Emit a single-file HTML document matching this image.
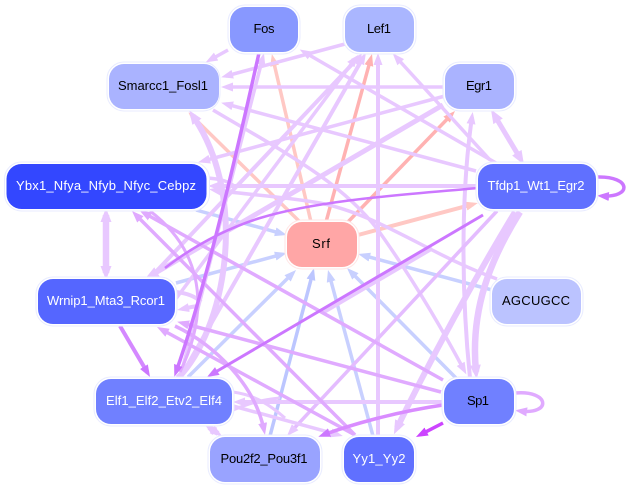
<!DOCTYPE html>
<html>
<head>
<meta charset="utf-8">
<style>
html,body{margin:0;padding:0;background:#fff;width:626px;height:489px;overflow:hidden}
svg{display:block}
text{font-family:"Liberation Sans",sans-serif;font-size:13px;text-anchor:middle;dominant-baseline:central}
.L,.M,.D,.V,.P,.S,.B,.C{fill:none}
.L{stroke:#e8c8ff}.M{stroke:#e0aaff}.D{stroke:#cc77ff}.V{stroke:#cc44ff}
.P{stroke:#ffc8c4}.S{stroke:#ffb2b2}.B{stroke:#c8d0ff}.C{stroke:#bcc6ff}
</style>
</head>
<body>
<svg width="626" height="489" viewBox="0 0 626 489" xmlns="http://www.w3.org/2000/svg">
<defs>
<marker id="aL" markerUnits="userSpaceOnUse" markerWidth="13" markerHeight="10" refX="7" refY="5" orient="auto-start-reverse"><path d="M0,.5L12,5L0,9.5z" fill="#e8c8ff"/></marker>
<marker id="bL" markerUnits="userSpaceOnUse" markerWidth="15" markerHeight="12" refX="7" refY="6" orient="auto-start-reverse"><path d="M0,.5L14,6L0,11.5z" fill="#e8c8ff"/></marker>
<marker id="aM" markerUnits="userSpaceOnUse" markerWidth="13" markerHeight="10" refX="7" refY="5" orient="auto-start-reverse"><path d="M0,.5L12,5L0,9.500z" fill="#e0aaff"/></marker>
<marker id="aD" markerUnits="userSpaceOnUse" markerWidth="13" markerHeight="10" refX="7" refY="5" orient="auto-start-reverse"><path d="M0,.5L12,5L0,9.5z" fill="#cc77ff"/></marker>
<marker id="aV" markerUnits="userSpaceOnUse" markerWidth="13" markerHeight="10" refX="7" refY="5" orient="auto-start-reverse"><path d="M0,.5L12,5L0,9.5z" fill="#cc44ff"/></marker>
<marker id="aP" markerUnits="userSpaceOnUse" markerWidth="13" markerHeight="10" refX="7" refY="5" orient="auto-start-reverse"><path d="M0,.5L12,5L0,9.5z" fill="#ffc8c4"/></marker>
<marker id="aS" markerUnits="userSpaceOnUse" markerWidth="13" markerHeight="10" refX="7" refY="5" orient="auto-start-reverse"><path d="M0,.5L12,5L0,9.5z" fill="#ffb2b2"/></marker>
<marker id="aB" markerUnits="userSpaceOnUse" markerWidth="13" markerHeight="10" refX="7" refY="5" orient="auto-start-reverse"><path d="M0,.5L12,5L0,9.5z" fill="#c8d0ff"/></marker>
<marker id="aC" markerUnits="userSpaceOnUse" markerWidth="13" markerHeight="10" refX="7" refY="5" orient="auto-start-reverse"><path d="M0,.5L12,5L0,9.5z" fill="#bcc6ff"/></marker>
</defs>

<!-- pink / salmon -->
<path class="P" stroke-width="3.5" d="M300,222L192,116" marker-end="url(#aP)"/>
<path class="P" stroke-width="3.5" d="M311,222L273,59" marker-end="url(#aP)"/>
<path class="S" stroke-width="3.5" d="M326,222L370.7,58.8" marker-end="url(#aS)"/>
<path class="S" stroke-width="3.5" d="M346,224L451.5,114.6" marker-end="url(#aS)"/>
<path class="P" stroke-width="4" d="M358,235L473,204.3" marker-end="url(#aP)"/>

<!-- blue -->
<path class="B" stroke-width="3.5" d="M176,283L282,254.3" marker-end="url(#aB)"/>
<path class="B" stroke-width="3.5" d="M196,210L282,233.7" marker-end="url(#aB)"/>
<path class="B" stroke-width="3.5" d="M188,377L292.5,273.5" marker-end="url(#aB)"/>
<path class="C" stroke-width="3.5" d="M270,436L312.7,273" marker-end="url(#aC)"/>
<path class="B" stroke-width="3.5" d="M373,436L329.3,274.8" marker-end="url(#aB)"/>
<path class="B" stroke-width="3.5" d="M456,378L350.5,271.5" marker-end="url(#aB)"/>
<path class="B" stroke-width="3.5" d="M492,290L363,255.3" marker-end="url(#aB)"/>

<!-- light purple -->
<path class="L" stroke-width="3.5" d="M228,50L210,60" marker-end="url(#aL)"/>
<path class="L" stroke-width="3.5" d="M345,44L226,76" marker-end="url(#aL)"/>
<path class="L" stroke-width="3.5" d="M445,87L226,87" marker-end="url(#aL)"/>
<path class="L" stroke-width="3.5" d="M476,171L226,104" marker-end="url(#aL)"/>
<path class="L" stroke-width="6" d="M178,378C225,330 250,200 193,116" marker-end="url(#bL)"/>
<path class="L" stroke-width="3.5" d="M445,96L203,161" marker-end="url(#aL)"/>
<path class="L" stroke-width="4" d="M478,186L213,186" marker-end="url(#aL)"/>
<path class="L" stroke-width="3.5" d="M208,178C220,179 228,181 234,186"/>
<path class="L" stroke-width="3.5" d="M497,279C430,255 380,215 320,203C280,196 240,194 214,190" marker-end="url(#aL)"/>
<path class="L" stroke-width="3.5" d="M213,110C280,150 340,180 378,230C410,275 440,325 464,370" marker-end="url(#aL)"/>
<path class="L" stroke-width="3.5" d="M496,163L304,52" marker-end="url(#aL)"/>
<path class="L" stroke-width="3.5" d="M490,160L396,57" marker-end="url(#aL)"/>
<path class="L" stroke-width="4" d="M378,437L378,58" marker-end="url(#aL)"/>
<path class="L" stroke-width="4" d="M150,278L359,57" marker-end="url(#aL)"/>
<path class="L" stroke-width="4" d="M180,378L363.5,57" marker-end="url(#aL)"/>
<path class="L" stroke-width="3.500" d="M175,300L355,59" marker-end="url(#aL)"/>
<path class="L" stroke-width="5" d="M443,105L151,275.5" marker-end="url(#bL)"/>
<path class="L" stroke-width="6.500" d="M106,215L106,273" marker-start="url(#bL)" marker-end="url(#bL)"/>
<path class="L" stroke-width="5" d="M494.5,115.3L520.4,158.7" marker-start="url(#bL)" marker-end="url(#bL)"/>
<path class="L" stroke-width="4" d="M470,378C462,300 460,200 472,117" marker-end="url(#aL)"/>
<path class="L" stroke-width="6.500" d="M520,212C490,260 470,310 476,372" marker-end="url(#bL)"/>
<path class="L" stroke-width="6" d="M515,212C480,270 440,340 397,428" marker-end="url(#bL)"/>
<path d="M497,211L290.4,432.3" fill="none" stroke="#e4bcff" stroke-width="3.500" marker-end="url(#aL)"/>
<path class="L" stroke-width="3.500" d="M180,378L262.7,58" marker-end="url(#aL)"/>
<path class="L" stroke-width="4" d="M444,402L238,402" marker-end="url(#aL)"/>
<path class="L" stroke-width="3" d="M233,392C255,395 270,405 285,418"/>
<path class="L" stroke-width="3.500" d="M233,406L338,434.7" marker-end="url(#aL)"/>
<path class="L" stroke-width="3" d="M233,410C245,405 258,400 280,398"/>
<path class="L" stroke-width="5" d="M209,427.5L218,433.5" marker-start="url(#aL)" marker-end="url(#aL)"/>
<path class="L" stroke-width="4" d="M176,292C185,293 195,296 201,302"/>
<path class="L" stroke-width="4" d="M198,306C190,307 187,308 182,309" marker-end="url(#aL)"/>
<path class="L" stroke-width="5" d="M323,312L432,248"/>

<!-- medium purple -->
<path class="M" stroke-width="3.500" d="M441,392L182,323" marker-end="url(#aM)"/>
<path class="M" stroke-width="3.500" d="M443,380L144,213" marker-end="url(#aM)"/>
<path class="M" stroke-width="3.500" d="M355,435L135.5,214.5" marker-end="url(#aM)"/>
<path class="M" stroke-width="3.500" d="M355,435L161.4,329.4" marker-end="url(#aM)"/>
<path class="M" stroke-width="3.500" d="M175,326C215,345 255,385 264,430" marker-end="url(#aM)"/>
<path d="M443,405C395,412 350,425 323,435" fill="none" stroke="#d98cff" stroke-width="3.500" marker-end="url(#aD)"/>
<path class="M" stroke-width="3.500" d="M515,393C550,390 552,415 520,411" marker-end="url(#aM)"/>
<path class="M" stroke-width="3" d="M150,211C195,245 215,300 180,372"/>

<!-- dark purple -->
<path class="D" stroke-width="2.500" d="M478,188C400,195 320,200 260,218C225,229 195,245 165,268"/>
<path class="D" stroke-width="3.500" d="M259,53C235,160 205,290 176,372" marker-end="url(#aD)"/>
<path class="D" stroke-width="3" d="M483,215L211.3,374.5" marker-end="url(#aD)"/>
<path d="M120,326L147.5,372.7" fill="none" stroke="#d488ff" stroke-width="4" marker-end="url(#aD)"/>
<path class="D" stroke-width="3.500" d="M597,177C632,176 632,198 602,196" marker-end="url(#aD)"/>
<path class="V" stroke-width="3.500" d="M443,423L420.4,434.7" marker-end="url(#aV)"/>

<!-- nodes -->
<g stroke="#e8ebff" fill="#fff" stroke-width="1">
<rect x="228" y="5" width="72" height="49" rx="17"/>
<rect x="343" y="5" width="73" height="49" rx="17"/>
<rect x="107" y="62" width="113" height="49" rx="17"/>
<rect x="443" y="62" width="73" height="49" rx="17"/>
<rect x="4.500" y="162" width="205" height="49" rx="17"/>
<rect x="476" y="162" width="122" height="49" rx="17"/>
<rect x="285" y="220" width="74" height="49" rx="17" stroke="#ffe6e6"/>
<rect x="36" y="277" width="141" height="49" rx="17"/>
<rect x="490" y="277" width="93" height="49" rx="17"/>
<rect x="94" y="377" width="140" height="49" rx="17"/>
<rect x="442" y="377" width="74" height="49" rx="17"/>
<rect x="208" y="435" width="114" height="49" rx="17"/>
<rect x="342" y="435" width="74" height="49" rx="17"/>
</g>
<rect x="230" y="7" width="68" height="45" rx="15" fill="#8898ff"/>
<rect x="345" y="7" width="69" height="45" rx="15" fill="#aab6ff"/>
<rect x="109" y="64" width="110" height="45" rx="15" fill="#aab3ff"/>
<rect x="445" y="64" width="69" height="45" rx="15" fill="#aab3ff"/>
<rect x="6.500" y="164" width="200" height="45" rx="15" fill="#3347ff"/>
<rect x="478" y="164" width="118" height="45" rx="15" fill="#6070ff"/>
<rect x="287" y="222" width="70" height="45" rx="15" fill="#ffa6a6"/>
<rect x="38" y="279" width="137" height="45" rx="15" fill="#5566ff"/>
<rect x="492" y="279" width="89" height="45" rx="15" fill="#bbc3ff"/>
<rect x="96" y="379" width="136" height="45" rx="15" fill="#7080ff"/>
<rect x="444" y="379" width="70" height="45" rx="15" fill="#7080ff"/>
<rect x="210" y="437" width="110" height="45" rx="15" fill="#99a3ff"/>
<rect x="344" y="437" width="70" height="45" rx="15" fill="#6070ff"/>

<text x="264" y="28.500" fill="#000" textLength="21">Fos</text>
<text x="379" y="28.500" fill="#000" textLength="24">Lef1</text>
<text x="163" y="85.500" fill="#000" textLength="90">Smarcc1_Fosl1</text>
<text x="479" y="85.500" fill="#000" textLength="26">Egr1</text>
<text x="106" y="185.500" fill="#fff" textLength="180">Ybx1_Nfya_Nfyb_Nfyc_Cebpz</text>
<text x="536" y="185.500" fill="#fff" textLength="97">Tfdp1_Wt1_Egr2</text>
<text x="321" y="243.500" fill="#000" textLength="18">Srf</text>
<text x="106" y="300.500" fill="#fff" textLength="118">Wrnip1_Mta3_Rcor1</text>
<text x="536" y="300.500" fill="#000" textLength="68">AGCUGCC</text>
<text x="164" y="400.500" fill="#fff" textLength="116">Elf1_Elf2_Etv2_Elf4</text>
<text x="478" y="400.500" fill="#000" textLength="22">Sp1</text>
<text x="264" y="458.500" fill="#000" textLength="87">Pou2f2_Pou3f1</text>
<text x="379" y="458.500" fill="#fff" textLength="53">Yy1_Yy2</text>
</svg>
</body>
</html>
